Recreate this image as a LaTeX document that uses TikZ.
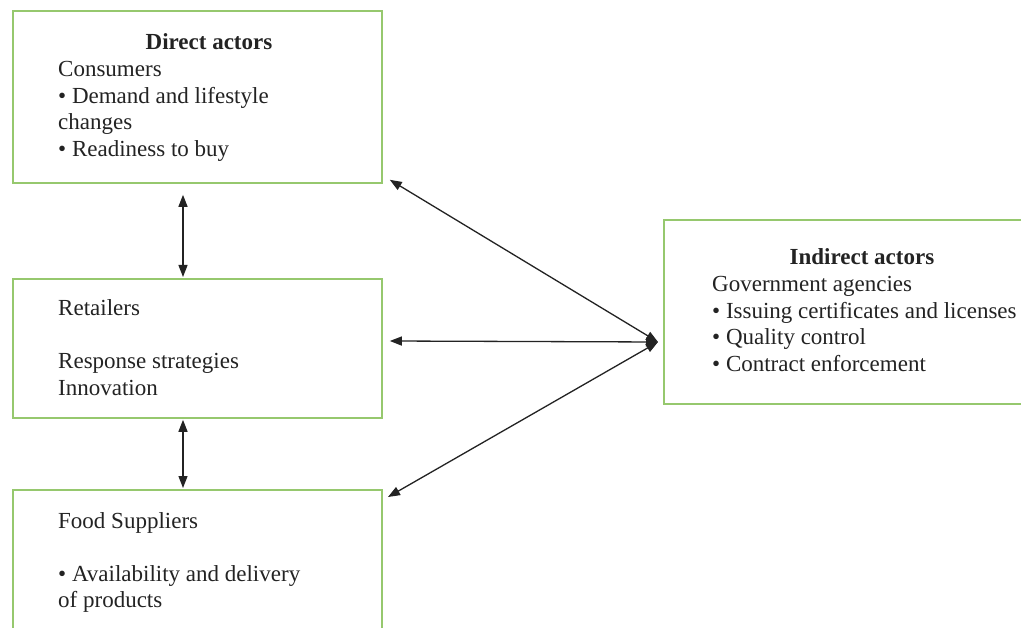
\documentclass[tikz,border=0pt]{standalone}
\usepackage{fontspec}
\setmainfont{Liberation Serif}
\usetikzlibrary{arrows.meta,calc}
\definecolor{boxgreen}{RGB}{150,200,110}
\definecolor{ink}{RGB}{35,35,35}
% text block whose reference point is the first baseline
\newcommand{\blocktext}[1]{\parbox[t]{320pt}{\raggedright\fontsize{23}{26.5}\selectfont #1}}
\tikzset{
  box/.style={draw=boxgreen, line width=1.8pt, rectangle, inner sep=0pt, anchor=north west},
  body/.style={anchor=base west, inner sep=0pt, text=ink},
  head/.style={anchor=base, inner sep=0pt, text=ink,
    font=\fontsize{23}{26.5}\selectfont\bfseries},
  link/.style={draw=ink, line width=1.3pt,
    {Triangle[length=12pt,width=9pt]}-{Triangle[length=12pt,width=9pt]}}
}
\begin{document}
\begin{tikzpicture}[x=1pt,y=-1pt]
\useasboundingbox (0,0) rectangle (1021,628);
\clip (0,0) rectangle (1021,628);
\fill[white] (0,0) rectangle (1021,628);

% actor boxes
\node[box, minimum width=369pt, minimum height=172pt] (cons) at (12,10) {};
\node[box, minimum width=369pt, minimum height=139pt] (ret) at (12,278) {};
\node[box, minimum width=369pt, minimum height=160pt] (sup) at (12,489) {};
\node[box, minimum width=380pt, minimum height=184pt] (gov) at (663,219) {};

% box texts
\node[head] (consh) at (209,50) {Direct actors};
\node[body] (const) at (58,77) {\blocktext{Consumers\\\textbullet\ Demand and lifestyle\\changes\\\textbullet\ Readiness to buy}};
\node[body] (rett) at (58,316) {\blocktext{Retailers\\\mbox{}\\Response strategies\\Innovation}};
\node[body] (supt) at (58,528) {\blocktext{Food Suppliers\\\mbox{}\\\textbullet\ Availability and delivery\\of products}};
\node[head] (govh) at (862,265) {Indirect actors};
\node[body] (govt) at (712,292) {\blocktext{Government agencies\\\textbullet\ Issuing certificates and licenses\\\textbullet\ Quality control\\\textbullet\ Contract enforcement}};

% connectors
\coordinate (hub) at ($(gov.north west)+(-5,123)$);
\draw[link] ($(cons.south west)+(171,11)$) -- ($(ret.north west)+(171,-1)$);
\draw[link] ($(ret.south west)+(171,1)$) -- ($(sup.north west)+(171,-1)$);
\draw[link] ($(cons.south east)+(7,-4)$) -- (hub);
\draw[link] ($(ret.north east)+(7,63)$) -- (hub);
\draw[link] ($(sup.north west)+(376,8)$) -- (hub);
\end{tikzpicture}
\end{document}
